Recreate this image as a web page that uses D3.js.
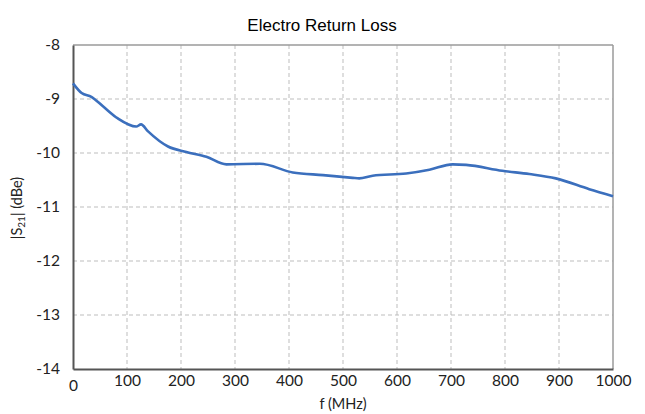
<!DOCTYPE html>
<html><head><meta charset="utf-8">
<script src="https://cdn.jsdelivr.net/npm/d3@7"></script>
<style>
body{margin:0;background:#fff;}
svg{display:block;}
.tick text{font-family:Lato,"Open Sans",sans-serif;font-size:15.5px;fill:#222;}
</style></head>
<body><svg id="c" width="645" height="414"></svg>
<script>
const freqs = [0,16,34,56,83,117,126,139,176,210,247,284,346,407,463,518,530,555,617,660,703,728,795,845,894,956,1000];
const values = [-8.71,-8.89,-8.96,-9.14,-9.36,-9.51,-9.47,-9.6,-9.88,-9.98,-10.07,-10.21,-10.20,-10.36,-10.41,-10.46,-10.47,-10.42,-10.38,-10.31,-10.21,-10.22,-10.33,-10.39,-10.47,-10.67,-10.80];
const xTicks = [0,100,200,300,400,500,600,700,800,900,1000];
const yTicks = [-8,-9,-10,-11,-12,-13,-14];

const svg = d3.select("#c");
const L=73,R=613,T=45,B=369;
const x = d3.scaleLinear().domain([0,1000]).range([L,R]);
const y = d3.scaleLinear().domain([-8,-14]).range([T,B]);

// gridlines
svg.append("g").selectAll("line").data(xTicks.slice(1,-1)).join("line")
  .attr("x1",d=>x(d)).attr("x2",d=>x(d)).attr("y1",T).attr("y2",B)
  .attr("stroke","#bdbdbd").attr("stroke-width",1).attr("stroke-dasharray","4,3");
svg.append("g").selectAll("line").data(yTicks.slice(1,-1)).join("line")
  .attr("y1",d=>y(d)).attr("y2",d=>y(d)).attr("x1",L).attr("x2",R)
  .attr("stroke","#bdbdbd").attr("stroke-width",1).attr("stroke-dasharray","4,3");

// frame top/right
svg.append("line").attr("x1",L).attr("x2",R).attr("y1",T).attr("y2",T).attr("stroke","#9a9a9a").attr("stroke-width",1.5);
svg.append("line").attr("x1",R).attr("x2",R).attr("y1",T).attr("y2",B).attr("stroke","#9a9a9a").attr("stroke-width",1.5);

// axes
const xa = svg.append("g").attr("transform",`translate(0,${B})`)
  .call(d3.axisBottom(x).tickValues(xTicks).tickSize(0).tickPadding(6).tickFormat(d3.format("d")));
xa.select(".domain").attr("stroke","#555").attr("stroke-width",2);
xa.selectAll(".tick").filter(d=>d===0).select("text").attr("dy","1.0em");
const ya = svg.append("g").attr("transform",`translate(${L},0)`)
  .call(d3.axisLeft(y).tickValues(yTicks).tickSize(0).tickPadding(13).tickFormat(d=>d));
ya.select(".domain").attr("stroke","#555").attr("stroke-width",2);
ya.selectAll(".tick text").text(d=>"-"+Math.abs(d));

// line
svg.append("path").datum(freqs.map((f,i)=>[f,values[i]]))
  .attr("fill","none").attr("stroke","#3b6fbd").attr("stroke-width",2.6)
  .attr("stroke-linejoin","round")
  .attr("d",d3.line().x(d=>x(d[0])).y(d=>y(d[1])).curve(d3.curveMonotoneX));

// title
svg.append("text").attr("x",322).attr("y",31).attr("text-anchor","middle")
  .attr("font-family","Liberation Sans, Arial, sans-serif").attr("font-size",17).attr("fill","#000")
  .text("Electro Return Loss");

// axis labels
svg.append("text").attr("x",343).attr("y",409).attr("text-anchor","middle")
  .attr("font-family","Lato, sans-serif").attr("font-size",14.5).attr("fill","#222").text("f (MHz)");
const yl = svg.append("text").attr("transform","translate(22,208) rotate(-90)").attr("text-anchor","middle")
  .attr("font-family","Lato, sans-serif").attr("font-size",14.5).attr("fill","#222");
yl.append("tspan").text("|S");
yl.append("tspan").attr("font-size",10).attr("dy",3).text("21");
yl.append("tspan").attr("dy",-3).text("| (dBe)");
</script></body></html>
